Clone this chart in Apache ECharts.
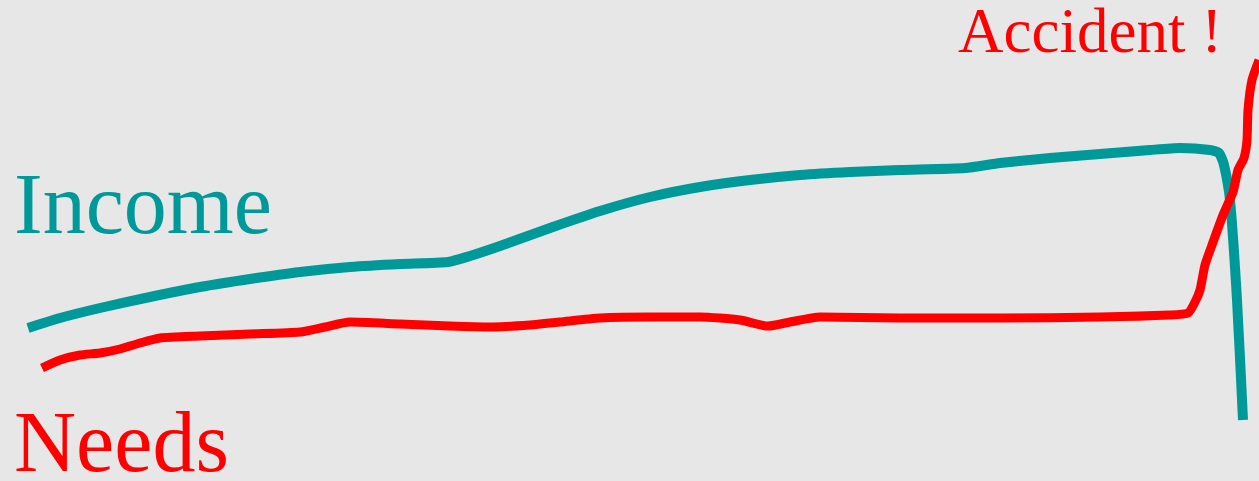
<!DOCTYPE html>
<html>
<head>
<meta charset="utf-8">
<script src="https://cdn.jsdelivr.net/npm/echarts@6/dist/echarts.min.js"></script>
<style>
html,body{margin:0;padding:0;background:#e7e7e7;}
#c{width:1259px;height:481px;}
</style>
</head>
<body>
<div id="c"></div>
<script>
const incomeX = [28,60,100,150,200,250,300,350,400,448,470,500,550,600,650,700,750,800,850,900,965,1000,1050,1100,1150,1180,1210,1219,1224,1230,1237,1243];
const incomeY = [153,163,173,184,194,202,209,214,217,219,225,235,253,270,284,294,301,306,309,311,313,318,323,327,331,333,331,328,316,281,181,61];
const needsX = [42,60,80,100,120,140,160,200,250,300,325,350,400,450,490,530,560,600,650,700,740,768,790,820,900,1000,1100,1170,1188,1195,1200,1205,1212,1223,1233,1238,1244,1247,1248,1252,1259];
const needsY = [113,121,126,128,132,138,143,145,147,149,154,159,157,155,154,156,159,163,164,164,161,155,159,164,163,163,164,166,168,179,191,216,236,266,289,311,323,341,371,401,421];
const labels = {income:'Income', needs:'Needs', accident:'Accident !'};

const pairs = (xs, ys) => xs.map((x,i)=>[x, ys[i]]);
const chart = echarts.init(document.getElementById('c'));
chart.setOption({
  backgroundColor:'#e7e7e7',
  animation:false,
  grid:{left:0,right:0,top:0,bottom:0},
  xAxis:{type:'value',min:0,max:1259,show:false},
  yAxis:{type:'value',min:0,max:481,show:false},
  series:[
    {type:'line',name:labels.income,data:pairs(incomeX,incomeY),showSymbol:false,smooth:0.2,
     lineStyle:{color:'#009999',width:10,cap:'butt',join:'round'}},
    {type:'line',name:labels.needs,data:pairs(needsX,needsY),showSymbol:false,smooth:0.2,
     lineStyle:{color:'#ff0000',width:9,cap:'butt',join:'round'}}
  ],
  graphic:[
    {type:'text',left:14,top:167,style:{text:labels.income,fill:'#009999',font:'86px "Liberation Serif"'}},
    {type:'text',left:14,top:405,style:{text:labels.needs,fill:'#ff0000',font:'86px "Liberation Serif"'}},
    {type:'text',left:958,top:4,style:{text:labels.accident,fill:'#ff0000',font:'63px "Liberation Serif"'}}
  ]
});
</script>
</body>
</html>
